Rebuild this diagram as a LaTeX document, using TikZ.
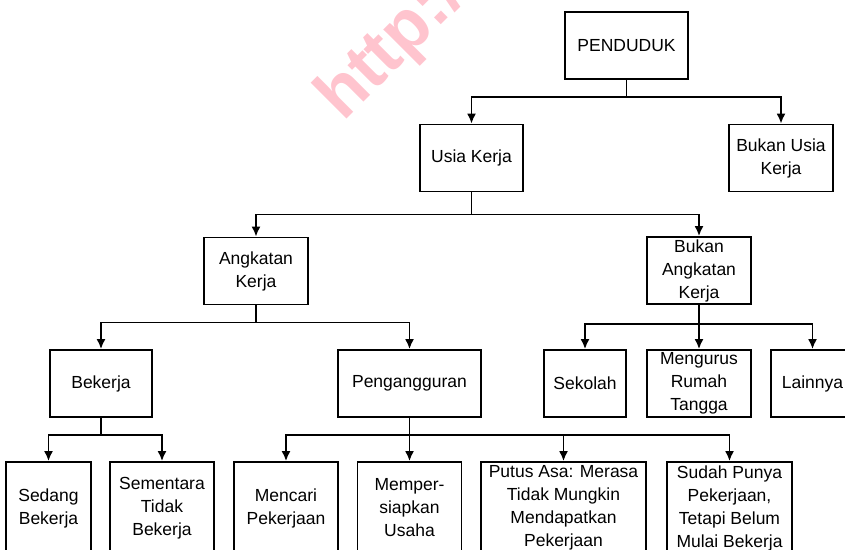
\documentclass[tikz,border=0pt]{standalone}
\usepackage{fontspec}
\setmainfont{Liberation Sans}
\usetikzlibrary{arrows.meta}
\definecolor{wmpink}{RGB}{255,196,206}

\begin{document}
\begin{tikzpicture}[x={(1pt,0)},y={(0,-1pt)}]
\tikzset{box/.style = {shape=rectangle,draw,line width=1.8pt,inner sep=0pt,minimum height=67pt,align=center,font=\fontsize{17.5}{23}\selectfont}}
\tikzset{tallbox/.style = {box,minimum height=92pt}}
\tikzset{edge/.style = {-{Latex[length=10pt,width=9pt]},line width=1.8pt}}
\useasboundingbox (0,0) rectangle (845,549);
\clip (0,0) rectangle (845,549);
% watermark
\node[rotate=45, anchor=base west, inner sep=0pt, text=wmpink, font=\bfseries\fontsize{70}{70}\selectfont] (wm) at (343,123) {http://};
% vertices
\node[box, minimum width=123pt] (pend) at (626.5,45.5) {PENDUDUK};
\node[box, minimum width=103pt] (usia) at (471.5,158) {Usia Kerja};
\node[box, minimum width=104pt] (bukanusia) at (781,158) {Bukan Usia\\Kerja};
\node[box, minimum width=104pt] (angkatan) at (256,271) {Angkatan\\Kerja};
\node[box, minimum width=104pt] (bukanak) at (699,270.5) {Bukan\\Angkatan\\Kerja};
\node[box, minimum width=102pt] (bekerja) at (101,383.5) {Bekerja};
\node[box, minimum width=143pt] (pengangguran) at (409.5,383.5) {Pengangguran};
\node[box, minimum width=82pt] (sekolah) at (585,383.5) {Sekolah};
\node[box, minimum width=104pt] (mengurus) at (699,383.5) {Mengurus\\Rumah\\Tangga};
\node[box, minimum width=83pt] (lainnya) at (812.5,383.5) {Lainnya};
\node[tallbox, minimum width=85pt] (sedang) at (48.5,508) {Sedang\\Bekerja};
\node[tallbox, minimum width=104pt] (sementara) at (162,508) {Sementara\\Tidak\\Bekerja};
\node[tallbox, minimum width=104pt] (mencari) at (286,508) {Mencari\\Pekerjaan};
\node[tallbox, minimum width=104pt] (persiapan) at (409.5,508) {Memper-\\siapkan\\Usaha};
\node[tallbox, minimum width=165pt] (putusasa) at (563.5,508) {Putus Asa: Merasa\\Tidak Mungkin\\Mendapatkan\\Pekerjaan};
\node[tallbox, minimum width=125pt] (sudahpunya) at (729.5,508) {Sudah Punya\\Pekerjaan,\\Tetapi Belum\\Mulai Bekerja};
% edges
\draw[edge] (pend.south) -- ++(0,17) -| (usia.north);
\draw[edge] (pend.south) -- ++(0,17) -| (bukanusia.north);
\draw[edge] (usia.south) -- ++(0,22) -| (angkatan.north);
\draw[edge] (usia.south) -- ++(0,22) -| (bukanak.north);
\draw[edge] (angkatan.south) -- ++(0,17) -| (bekerja.north);
\draw[edge] (angkatan.south) -- ++(0,17) -| (pengangguran.north);
\draw[edge] (bukanak.south) -- ++(0,19) -| (sekolah.north);
\draw[edge] (bukanak.south) -- (mengurus.north);
\draw[edge] (bukanak.south) -- ++(0,19) -| (lainnya.north);
\draw[edge] (bekerja.south) -- ++(0,17) -| (sedang.north);
\draw[edge] (bekerja.south) -- ++(0,17) -| (sementara.north);
\draw[edge] (pengangguran.south) -- ++(0,17) -| (mencari.north);
\draw[edge] (pengangguran.south) -- (persiapan.north);
\draw[edge] (pengangguran.south) -- ++(0,17) -| (putusasa.north);
\draw[edge] (pengangguran.south) -- ++(0,17) -| (sudahpunya.north);
\end{tikzpicture}
\end{document}
